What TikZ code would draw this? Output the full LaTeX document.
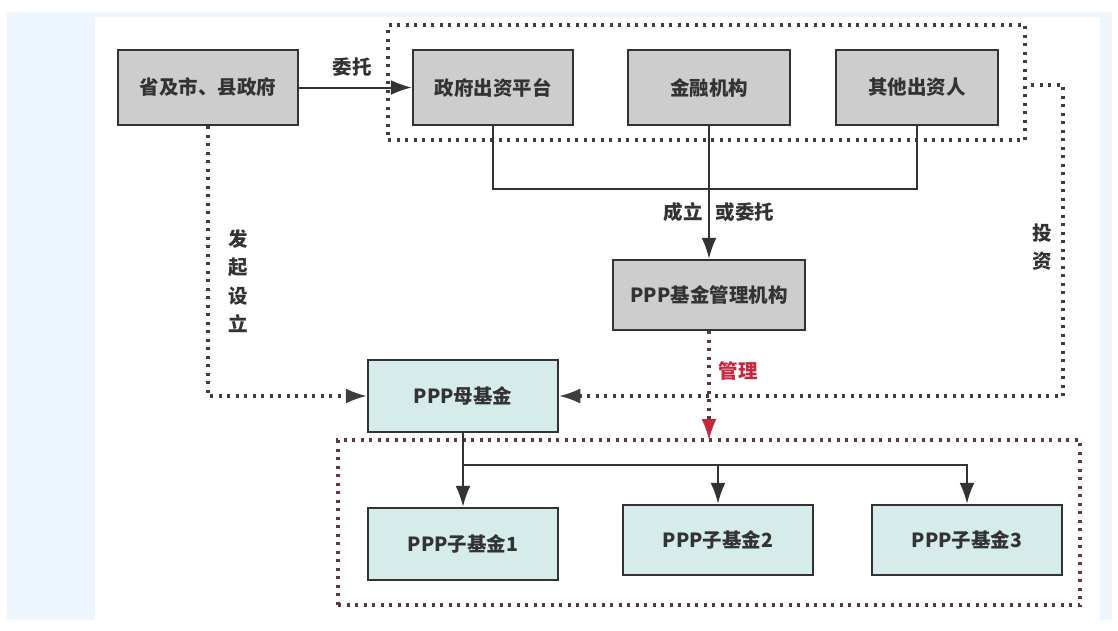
\documentclass[tikz,border=0pt]{standalone}
\usepackage{fontspec}
\setmainfont{Noto Sans CJK SC}
\usetikzlibrary{arrows.meta}
\definecolor{txt}{HTML}{333333}
\definecolor{grayfill}{HTML}{CDCDCD}
\definecolor{tealfill}{HTML}{D5ECEB}
\definecolor{bluebg}{HTML}{EEF6FD}
\definecolor{dotc}{HTML}{3E3E3E}
\definecolor{reddot}{HTML}{5A3840}
\definecolor{redarr}{HTML}{C8283F}
\tikzset{
  box/.style={draw=txt, line width=2.5pt, minimum width=#1, inner sep=0pt, text=txt, font=\fontsize{19.5}{19.5}\selectfont\bfseries},
  graybox/.style={box=#1, fill=grayfill, minimum height=75pt},
  tealbox/.style={box=#1, fill=tealfill, minimum height=72pt},
  link/.style={draw=txt, line width=2pt},
  tip/.style={-{Latex[length=21pt,width=15pt]}},
  arr/.style={tip},
  dots/.style={line width=3.3pt, dash pattern=on 3pt off 5.5pt},
  lbl/.style={text=txt, font=\fontsize{19.5}{19.5}\selectfont\bfseries, inner sep=0pt},
  vlbl/.style={lbl, align=center, font=\fontsize{19.5}{28.5}\selectfont\bfseries}
}
\begin{document}
\begin{tikzpicture}[x=1pt,y=-1pt]
\useasboundingbox (0,0) rectangle (1118,630);
\fill[white] (0,0) rectangle (1118,630);
\fill[bluebg] (7,12) rectangle (1112,620);
\fill[white] (95,17) rectangle (1100,630);

% group boxes
\node[draw=dotc, dots, minimum width=637pt, minimum height=115pt, inner sep=0pt] (grp) at (706.5,82.5) {};
\node[draw=reddot, dots, minimum width=742pt, minimum height=165pt, inner sep=0pt] (sub) at (709,522.5) {};

% nodes
\node[graybox=180pt] (gov) at (208,87.5) {省及市、县政府};
\node[graybox=160pt] (plat) at (493,87.5) {政府出资平台};
\node[graybox=162pt] (fin) at (709,87.5) {金融机构};
\node[graybox=162pt] (oth) at (917,87.5) {其他出资人};
\node[graybox=192pt, minimum height=70pt] (mgr) at (709,295) {PPP基金管理机构};
\node[tealbox=190pt] (mother) at (463,396) {PPP母基金};
\node[tealbox=190pt] (s1) at (463,544) {PPP子基金1};
\node[tealbox=190pt, minimum height=70pt] (s2) at (718,540) {PPP子基金2};
\node[tealbox=190pt, minimum height=70pt] (s3) at (967,540) {PPP子基金3};

% solid connectors
\draw[link, arr] (gov.east) -- (plat.west);
\node[lbl] (lwt) at (352,67) {委托};
\draw[link] (plat.south) -- ++(0,63) -| (oth.south);
\draw[link, arr] (fin.south) -- (mgr.north);
\node[lbl] (lcl) at (683,212) {成立};
\node[lbl] (lwt2) at (745,212) {或委托};

\coordinate (br) at (463,465);
\draw[link, arr] (mother.south) -- (s1.north);
\draw[link, arr] (br) -| (s3.north);
\draw[link, arr] (br -| s2.north) -- (s2.north);

% management (red)
\coordinate (mgt) at (709,440);
\draw[draw=reddot, dots] (mgr.south) -- ([yshift=16pt]mgt);
\draw[redarr, line width=2pt, tip] ([yshift=21pt]mgt) -- (mgt);
\node[lbl, text=redarr] (lgl) at (738,371) {管理};

% dotted: initiate
\draw[draw=dotc, dots] (gov.south) |- ([xshift=-16pt]mother.west);
\draw[dotc, line width=2pt, tip] ([xshift=-21pt]mother.west) -- (mother.west);
\node[vlbl] (lfq) at (238,281) {发\\起\\设\\立};

% dotted: invest
\coordinate (invs) at (1031,85);
\coordinate (inv) at (1063,85);
\draw[draw=dotc, dots] (invs) -- (inv) |- ([xshift=16pt]mother.east);
\draw[dotc, line width=2pt, tip] ([xshift=21pt]mother.east) -- (mother.east);
\node[vlbl] (ltz) at (1042,247) {投\\资};
\end{tikzpicture}
\end{document}
